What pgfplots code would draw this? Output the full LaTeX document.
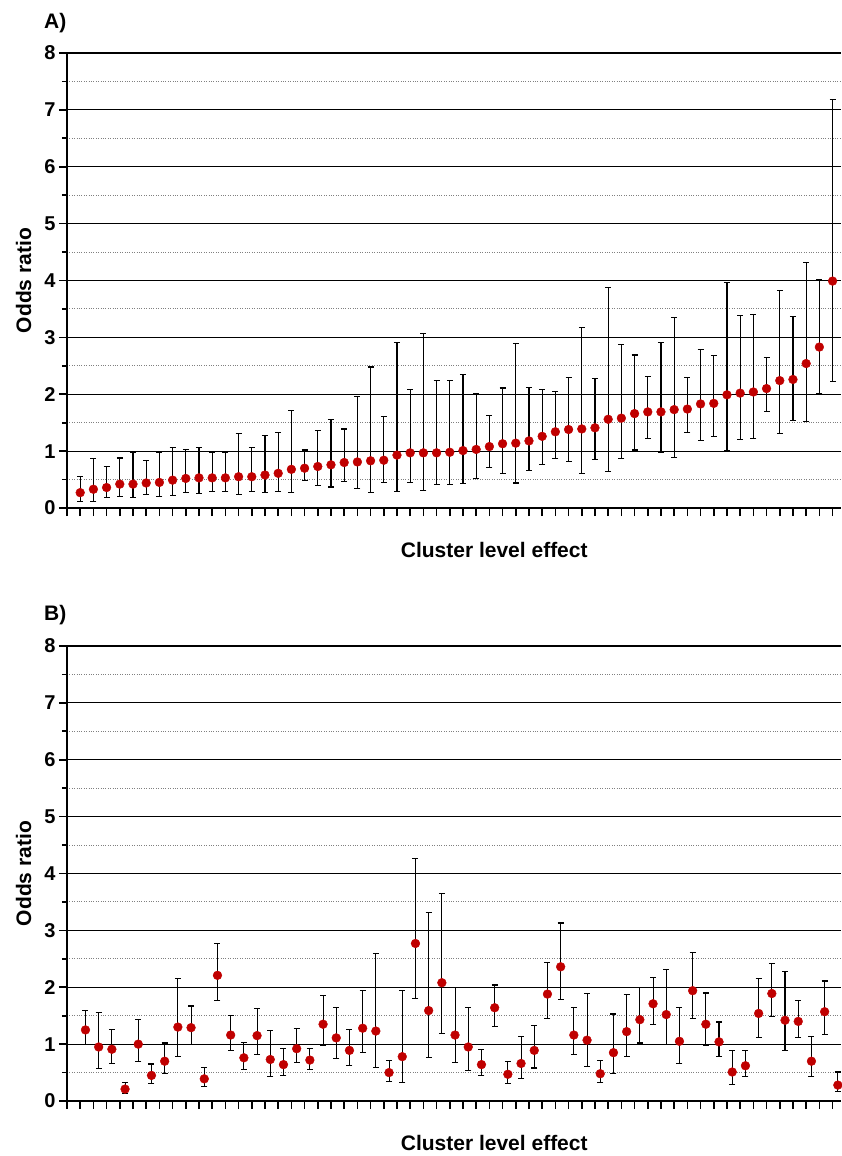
\documentclass[border=0pt]{standalone}
\usepackage{fontspec}
\setmainfont{Liberation Sans}
\usepackage{pgfplots}
\usepackage{pgfplotstable}
\pgfplotsset{compat=1.18}
\definecolor{dotred}{HTML}{C00000}

% cluster, OR, lower CI, upper CI
\pgfplotstableread{
x y lo hi
1 0.27 0.12 0.56
2 0.33 0.12 0.87
3 0.36 0.18 0.73
4 0.42 0.21 0.88
5 0.42 0.18 0.98
6 0.44 0.23 0.84
7 0.45 0.21 0.97
8 0.49 0.22 1.06
9 0.52 0.27 1.03
10 0.53 0.26 1.06
11 0.53 0.29 0.98
12 0.53 0.29 0.97
13 0.55 0.23 1.31
14 0.55 0.29 1.06
15 0.58 0.27 1.27
16 0.61 0.29 1.33
17 0.68 0.27 1.72
18 0.70 0.48 1.02
19 0.73 0.39 1.37
20 0.76 0.37 1.55
21 0.80 0.46 1.39
22 0.81 0.34 1.96
23 0.83 0.28 2.48
24 0.84 0.45 1.61
25 0.93 0.29 2.91
26 0.97 0.45 2.09
27 0.97 0.30 3.07
28 0.97 0.42 2.24
29 0.98 0.42 2.24
30 1.01 0.43 2.34
31 1.03 0.52 2.02
32 1.08 0.71 1.63
33 1.13 0.60 2.11
34 1.14 0.44 2.90
35 1.18 0.66 2.12
36 1.26 0.76 2.08
37 1.34 0.87 2.05
38 1.38 0.82 2.30
39 1.39 0.61 3.17
40 1.41 0.86 2.28
41 1.56 0.64 3.87
42 1.58 0.87 2.87
43 1.66 1.02 2.69
44 1.69 1.23 2.31
45 1.69 0.98 2.91
46 1.73 0.89 3.35
47 1.74 1.33 2.29
48 1.83 1.18 2.78
49 1.84 1.25 2.68
50 1.99 1.01 3.96
51 2.02 1.21 3.39
52 2.04 1.22 3.41
53 2.10 1.69 2.65
54 2.24 1.31 3.83
55 2.26 1.54 3.36
56 2.54 1.52 4.32
57 2.83 2.01 4.02
58 3.99 2.22 7.18
}\dataA

\pgfplotstableread{
x y lo hi
1.4 1.25 0.99 1.59
2.4 0.95 0.57 1.55
3.4 0.91 0.66 1.26
4.4 0.21 0.14 0.32
5.4 1.00 0.70 1.44
6.4 0.45 0.31 0.65
7.4 0.70 0.48 1.02
8.4 1.30 0.79 2.16
9.4 1.29 1.00 1.67
10.4 0.39 0.26 0.59
11.4 2.21 1.76 2.77
12.4 1.16 0.89 1.51
13.4 0.76 0.56 1.03
14.4 1.15 0.82 1.62
15.4 0.73 0.43 1.24
16.4 0.64 0.45 0.92
17.4 0.92 0.67 1.27
18.4 0.72 0.56 0.92
19.4 1.35 0.98 1.85
20.4 1.11 0.74 1.65
21.4 0.89 0.63 1.26
22.4 1.28 0.85 1.94
23.4 1.23 0.59 2.59
24.4 0.50 0.34 0.72
25.4 0.78 0.32 1.94
26.4 2.77 1.80 4.26
27.4 1.59 0.77 3.31
28.4 2.08 1.19 3.65
29.4 1.16 0.67 2.00
30.4 0.95 0.54 1.64
31.4 0.64 0.45 0.91
32.4 1.64 1.31 2.04
33.4 0.47 0.31 0.70
34.4 0.66 0.39 1.13
35.4 0.89 0.58 1.32
36.4 1.88 1.45 2.44
37.4 2.36 1.79 3.13
38.4 1.16 0.82 1.64
39.4 1.07 0.60 1.89
40.4 0.48 0.33 0.71
41.4 0.85 0.48 1.53
42.4 1.22 0.79 1.88
43.4 1.43 1.02 2.00
44.4 1.71 1.35 2.17
45.4 1.52 1.00 2.31
46.4 1.05 0.66 1.65
47.4 1.94 1.45 2.61
48.4 1.35 0.97 1.90
49.4 1.04 0.79 1.39
50.4 0.51 0.29 0.89
51.4 0.62 0.43 0.89
52.4 1.54 1.11 2.15
53.4 1.89 1.48 2.41
54.4 1.42 0.89 2.27
55.4 1.40 1.11 1.77
56.4 0.70 0.43 1.13
57.4 1.57 1.17 2.11
58.4 0.28 0.16 0.51
}\dataB

\pgfplotsset{orplot/.style={
  scale only axis, width=774pt, height=455pt,
  xmin=0, xmax=58.64, ymin=0, ymax=8,
  axis x line*=bottom, axis y line*=left,
  axis line style={line width=2.4pt},
  xtick={0,...,58}, xticklabels={},
  ytick={0,...,8}, minor ytick={0.5,1.5,...,7.5},
  tick align=outside, major tick length=8pt, minor tick length=5pt,
  every tick/.style={black, line width=1.7pt},
  ymajorgrids, yminorgrids,
  major grid style={black, line width=1.1pt},
  minor grid style={gray, dotted, line width=1pt},
  tick label style={font=\fontsize{20}{20}\selectfont\bfseries},
  /pgf/number format/assume math mode=true,
  ylabel={Odds ratio},
  ylabel style={at={(axis description cs:-0.056,0.5)}, anchor=center,
    font=\fontsize{21}{21}\selectfont\bfseries},
  xlabel={Cluster level effect},
  xlabel style={at={(axis description cs:0.552,-0.092)}, anchor=center,
    font=\fontsize{21}{21}\selectfont\bfseries},
  clip=false,
}}

\begin{document}
\begin{tikzpicture}
\useasboundingbox (0,0) rectangle (841pt,-1156pt);

\begin{axis}[orplot, at={(67pt,-508pt)}, anchor=south west]
\addplot[only marks, mark=none, forget plot,
  error bars/.cd, y dir=both, y explicit,
  error bar style={black, line width=1.1pt},
  error mark options={rotate=90, black, line width=1.1pt, mark size=3pt}]
  table[y error plus expr=\thisrow{hi}-\thisrow{y},
        y error minus expr=\thisrow{y}-\thisrow{lo}] {\dataA};
\addplot[only marks, mark=*, mark size=4.4pt, color=dotred] table[x=x, y=y] {\dataA};
\node[anchor=west, font=\fontsize{21}{21}\selectfont\bfseries]
  at (axis description cs:-0.034,1.066) {A)};
\end{axis}

\begin{axis}[orplot, at={(67pt,-1101pt)}, anchor=south west]
\addplot[only marks, mark=none, forget plot,
  error bars/.cd, y dir=both, y explicit,
  error bar style={black, line width=1.1pt},
  error mark options={rotate=90, black, line width=1.1pt, mark size=3pt}]
  table[y error plus expr=\thisrow{hi}-\thisrow{y},
        y error minus expr=\thisrow{y}-\thisrow{lo}] {\dataB};
\addplot[only marks, mark=*, mark size=4.4pt, color=dotred] table[x=x, y=y] {\dataB};
\node[anchor=west, font=\fontsize{21}{21}\selectfont\bfseries]
  at (axis description cs:-0.034,1.068) {B)};
\end{axis}
\end{tikzpicture}
\end{document}
